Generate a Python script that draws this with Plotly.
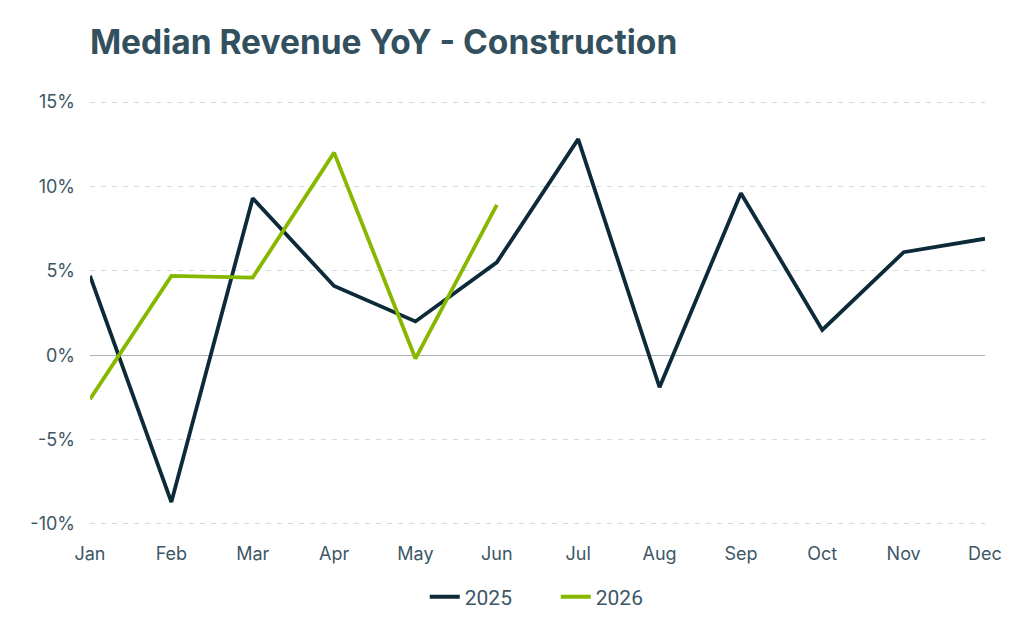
import plotly.graph_objects as go

# Datos (variación % interanual de ingresos medianos)
meses = ['Jan', 'Feb', 'Mar', 'Apr', 'May', 'Jun',
         'Jul', 'Aug', 'Sep', 'Oct', 'Nov', 'Dec']
yoy_2025 = [4.7, -8.7, 9.3, 4.1, 2.0, 5.5, 12.8, -1.9, 9.6, 1.5, 6.1, 6.9]
yoy_2026 = [-2.6, 4.7, 4.6, 12.0, -0.2, 8.9]

ticks_y = [-10, -5, 0, 5, 10, 15]
etiquetas_y = [f"{v}%" for v in ticks_y]

color_2025 = '#0c2a38'
color_2026 = '#86b800'
color_texto = '#3d5766'

fig = go.Figure()

fig.add_trace(go.Scatter(
    x=meses, y=yoy_2025, name='2025', mode='lines',
    line=dict(color=color_2025, width=3.8)
))
fig.add_trace(go.Scatter(
    x=meses[:len(yoy_2026)], y=yoy_2026, name='2026', mode='lines',
    line=dict(color=color_2026, width=3.8)
))

# la página tiene 8px de margen en el body, se compensa aquí
fig.update_layout(
    width=1024, height=640,
    paper_bgcolor='white', plot_bgcolor='white',
    margin=dict(t=93, b=123, l=82, r=47),
    title=dict(
        text='<b>Median Revenue YoY - Construction</b>',
        x=0.08, xanchor='left', y=0.947, yanchor='middle',
        font=dict(family='Inter, Lato, sans-serif', size=33.5, color='#33505e')
    ),
    font=dict(family='Inter, Lato, sans-serif', size=18, color=color_texto),
    showlegend=True,
    legend=dict(
        orientation='h', x=0.374, xanchor='left', y=-0.17, yanchor='middle',
        font=dict(family='Roboto, sans-serif', size=21, color='#3d5766'),
        itemwidth=30, entrywidthmode='pixels', entrywidth=86,
        traceorder='normal'
    ),
)

fig.update_xaxes(
    categoryorder='array', categoryarray=meses,
    range=[0, 11], showgrid=False, zeroline=False, showline=False,
    ticks='', ticklabelstandoff=16,
    tickfont=dict(size=18, color=color_texto)
)
fig.update_yaxes(
    range=[-10.06, 15.06], tickvals=ticks_y, ticktext=etiquetas_y,
    showgrid=True, gridcolor='#d3dae0', griddash='5px,6px', gridwidth=1,
    zeroline=True, zerolinecolor='#a8b3ba', zerolinewidth=1.2,
    showline=False, ticks='', ticklabelstandoff=14,
    tickfont=dict(size=18, color=color_texto)
)

fig.write_html("out.html")
